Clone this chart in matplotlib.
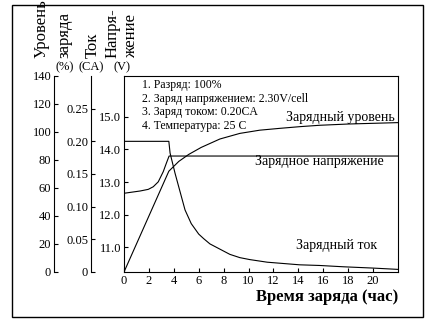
import matplotlib
matplotlib.use('Agg')
import matplotlib.pyplot as plt
from matplotlib.patches import Rectangle

plt.rcParams['font.family'] = ['Liberation Serif', 'DejaVu Serif']

# charge voltage (V)
t_volt = [0, 1.3, 1.95, 2.35, 2.75, 3.15, 3.4, 3.62, 22]
volt = [12.66, 12.73, 12.78, 12.86, 13.01, 13.32, 13.58, 13.8, 13.8]

# charge current (CA)
t_cur = [0, 3.6, 3.7, 4.1, 4.5, 4.9, 5.4, 6.0, 6.4, 6.9, 7.7, 8.5, 9.3, 10.1,
         11.5, 12.8, 14.1, 15.7, 17.6, 20.0, 22.0]
cur = [0.20, 0.20, 0.182, 0.151, 0.123, 0.095, 0.074, 0.058, 0.051, 0.043,
       0.035, 0.027, 0.022, 0.019, 0.015, 0.013, 0.011, 0.010, 0.008, 0.006, 0.004]

# charge level (%)
t_lvl = [0, 3.6, 4.4, 5.2, 6.2, 7.7, 9.3, 10.9, 12.5, 14.1, 15.7, 18, 22]
lvl = [0, 72, 79, 84, 89, 95, 99, 101.3, 102.6, 103.8, 104.8, 105.7, 106.7]

x_ticks = list(range(0, 21, 2))
volt_ticks = [11.0, 12.0, 13.0, 14.0, 15.0]
cur_ticks = [0, 0.05, 0.10, 0.15, 0.20, 0.25]
lvl_ticks = list(range(0, 141, 20))

notes = ['1. Разряд: 100%',
         '2. Заряд напряжением: 2.30V/cell',
         '3. Заряд током: 0.20CA',
         '4. Температура: 25 C']

W, H = 429, 324
fig = plt.figure(figsize=(W / 100, H / 100), dpi=100)
lw = 0.8

# main axes = voltage
ax = fig.add_axes([124 / W, 1 - 272 / H, 274 / W, 196 / H])
ax.set_xlim(0, 22)
ax.set_ylim(10.25, 16.25)
ax.set_xticks(x_ticks)
ax.set_yticks(volt_ticks)
ax.set_yticklabels(['%.1f' % v for v in volt_ticks])
ax.tick_params(direction='in', length=3, width=lw, labelsize=9, pad=2)
for s in ax.spines.values():
    s.set_linewidth(lw)

# current axis
ax_cur = ax.twinx()
ax_cur.set_ylim(0, 0.3)
# level axis
ax_lvl = ax.twinx()
ax_lvl.set_ylim(0, 140)

for a, pos, ticks, labels in [
        (ax_cur, (91 - 124) / 274, cur_ticks, ['0' if c == 0 else '%.2f' % c for c in cur_ticks]),
        (ax_lvl, (54 - 124) / 274, lvl_ticks, [str(v) for v in lvl_ticks])]:
    a.spines['left'].set_position(('axes', pos))
    a.spines['left'].set_linewidth(lw)
    for side in ['right', 'top', 'bottom']:
        a.spines[side].set_visible(False)
    a.yaxis.set_ticks_position('left')
    a.set_yticks(ticks)
    a.set_yticklabels(labels)
    a.tick_params(direction='in', length=3, width=lw, labelsize=9, pad=2)

ax.yaxis.tick_left()
ax.plot(t_volt, volt, color='black', lw=lw)
ax_cur.plot(t_cur, cur, color='black', lw=lw)
ax_lvl.plot(t_lvl, lvl, color='black', lw=lw)

# notes and curve names
for i, n in enumerate(notes):
    ax.text(0.066, 0.954 - i * 0.07, n, transform=ax.transAxes, fontsize=8.5,
            ha='left', va='center')
ax.text(0.788, 0.786, 'Зарядный уровень', transform=ax.transAxes, fontsize=10,
        ha='center', va='center')
ax.text(0.712, 0.566, 'Зарядное напряжение', transform=ax.transAxes, fontsize=10,
        ha='center', va='center')
ax.text(0.774, 0.133, 'Зарядный ток', transform=ax.transAxes, fontsize=10,
        ha='center', va='center')

# axis titles
fig.text(398 / W, 1 - 297 / H, 'Время заряда (час)', fontsize=12, fontweight='bold',
         ha='right', va='center')
for x, s in [(42, 'Уровень'), (64, 'заряда'), (93, 'Ток'), (113, 'Напря-'), (131, 'жение')]:
    fig.text(x / W, 1 - 58 / H, s, fontsize=12, rotation=90, ha='center', va='bottom')
for x, s in [(65, '(%)'), (91, '(CA)'), (122, '(V)')]:
    fig.text(x / W, 1 - 67 / H, s, fontsize=9, ha='center', va='center')

# outer frame
fig.patches.append(Rectangle((12 / W, 1 - 317 / H), 411 / W, 312 / H, transform=fig.transFigure,
                             fill=False, edgecolor='black', lw=1))

plt.savefig('out.png', dpi=100)
